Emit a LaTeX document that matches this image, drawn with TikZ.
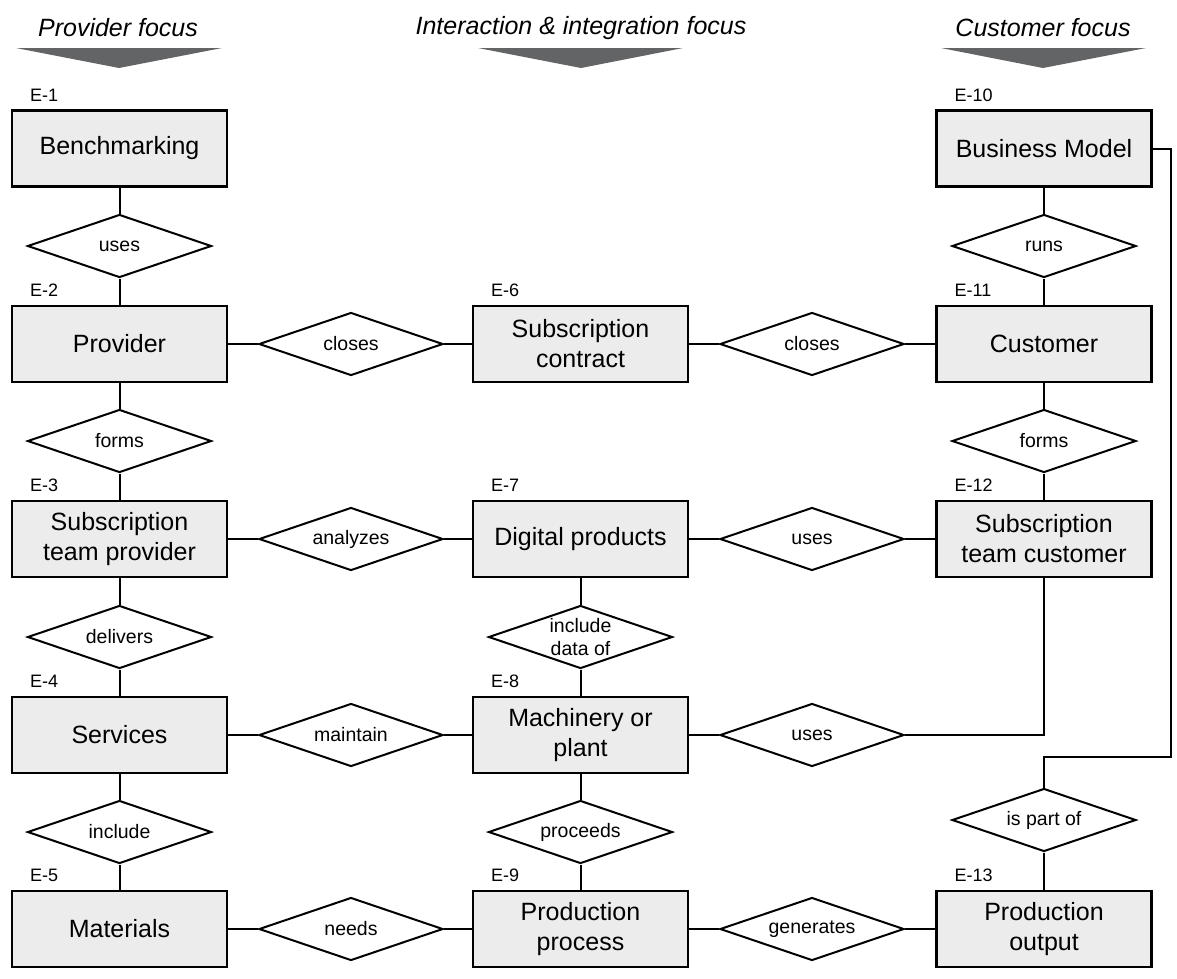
\documentclass[tikz,border=0pt]{standalone}
\usepackage{fontspec}
\setmainfont{Liberation Sans}
\usetikzlibrary{shapes.geometric,calc}
\definecolor{boxgray}{HTML}{EBECEB}
\definecolor{headgray}{HTML}{636466}
\begin{document}
\begin{tikzpicture}[x=1pt,y=-1pt,
  ent/.style={draw=black, line width=2.2pt, fill=boxgray, minimum width=215pt, minimum height=76pt, inner sep=0pt, align=center, font=\fontsize{25}{30}\selectfont},
  rel/.style={draw=black, line width=2pt, fill=white, shape=diamond, aspect=2.92, minimum width=184pt, minimum height=63pt, inner sep=0pt, align=center, font=\fontsize{19.5}{23}\selectfont},
  elabel/.style={anchor=base west, inner sep=0pt, font=\fontsize{18}{20}\selectfont},
  head/.style={font=\fontsize{25}{30}\selectfont\itshape, inner sep=0pt},
  conn/.style={line width=2pt},
  headarrow/.style={fill=headgray}
]
\useasboundingbox (0,0) rectangle (1177,978);

% headers
\node[head] (h1) at (118,28) {Provider focus};
\node[head] (h2) at (581,28) {Interaction \& integration focus};
\node[head] (h3) at (1043,28) {Customer focus};
\fill[headarrow] (16,48) -- (222,48) -- (119,68) -- cycle;
\fill[headarrow] (478,48) -- (683,48) -- (581,68) -- cycle;
\fill[headarrow] (941,48) -- (1146,48) -- (1043,68) -- cycle;

% entities
\node[ent] (e1) at (119.5,148.5) {Benchmarking};
\node[ent] (e2) at (119.5,344) {Provider};
\node[ent] (e3) at (119.5,539) {Subscription\\team provider};
\node[ent] (e4) at (119.5,735) {Services};
\node[ent] (e5) at (119.5,929) {Materials};
\node[ent] (e6) at (580.5,344) {Subscription\\contract};
\node[ent] (e7) at (580.5,539) {Digital products};
\node[ent] (e8) at (580.5,735) {Machinery or\\plant};
\node[ent] (e9) at (580.5,929) {Production\\process};
\node[ent] (e10) at (1044,148.5) {Business Model};
\node[ent] (e11) at (1044,344) {Customer};
\node[ent] (e12) at (1044,539) {Subscription\\team customer};
\node[ent] (e13) at (1044,929) {Production\\output};

% entity labels
\foreach \n/\t in {1/E-1,2/E-2,3/E-3,4/E-4,5/E-5,6/E-6,7/E-7,8/E-8,9/E-9,10/E-10,11/E-11,12/E-12,13/E-13}
  \node[elabel] (l\n) at ($(e\n.north west)+(19,-8)$) {\t};

% relationships
\node[rel] (r1) at (119.5,246) {uses};
\node[rel] (r2) at (119.5,441) {forms};
\node[rel] (r3) at (119.5,637) {delivers};
\node[rel] (r4) at (119.5,832) {include};
\node[rel] (r5) at (351,344) {closes};
\node[rel] (r6) at (812,344) {closes};
\node[rel] (r7) at (351,539) {analyzes};
\node[rel] (r8) at (812,539) {uses};
\node[rel] (r9) at (580.5,637) {include\\data of};
\node[rel] (r10) at (351,735) {maintain};
\node[rel] (r11) at (812,735) {uses};
\node[rel] (r12) at (580.5,832) {proceeds};
\node[rel] (r13) at (351,929) {needs};
\node[rel] (r14) at (812,929) {generates};
\node[rel] (r15) at (1044,246) {runs};
\node[rel] (r16) at (1044,441) {forms};
\node[rel] (r17) at (1044,820) {is part of};

% connectors
\draw[conn] (e1) -- (r1) -- (e2);
\draw[conn] (e2) -- (r2) -- (e3);
\draw[conn] (e3) -- (r3) -- (e4);
\draw[conn] (e4) -- (r4) -- (e5);
\draw[conn] (e2) -- (r5) -- (e6);
\draw[conn] (e6) -- (r6) -- (e11);
\draw[conn] (e3) -- (r7) -- (e7);
\draw[conn] (e7) -- (r8) -- (e12);
\draw[conn] (e4) -- (r10) -- (e8);
\draw[conn] (e8) -- (r11);
\draw[conn] (e5) -- (r13) -- (e9);
\draw[conn] (e9) -- (r14) -- (e13);
\draw[conn] (e7) -- (r9) -- (e8);
\draw[conn] (e8) -- (r12) -- (e9);
\draw[conn] (e10) -- (r15) -- (e11);
\draw[conn] (e11) -- (r16) -- (e12);
\draw[conn] (e12.south) |- (r11.east);
\coordinate (c1) at (1171,757);
\draw[conn] (e10.east) -| (c1) -| (r17.north);
\draw[conn] (r17) -- (e13);
\end{tikzpicture}
\end{document}
